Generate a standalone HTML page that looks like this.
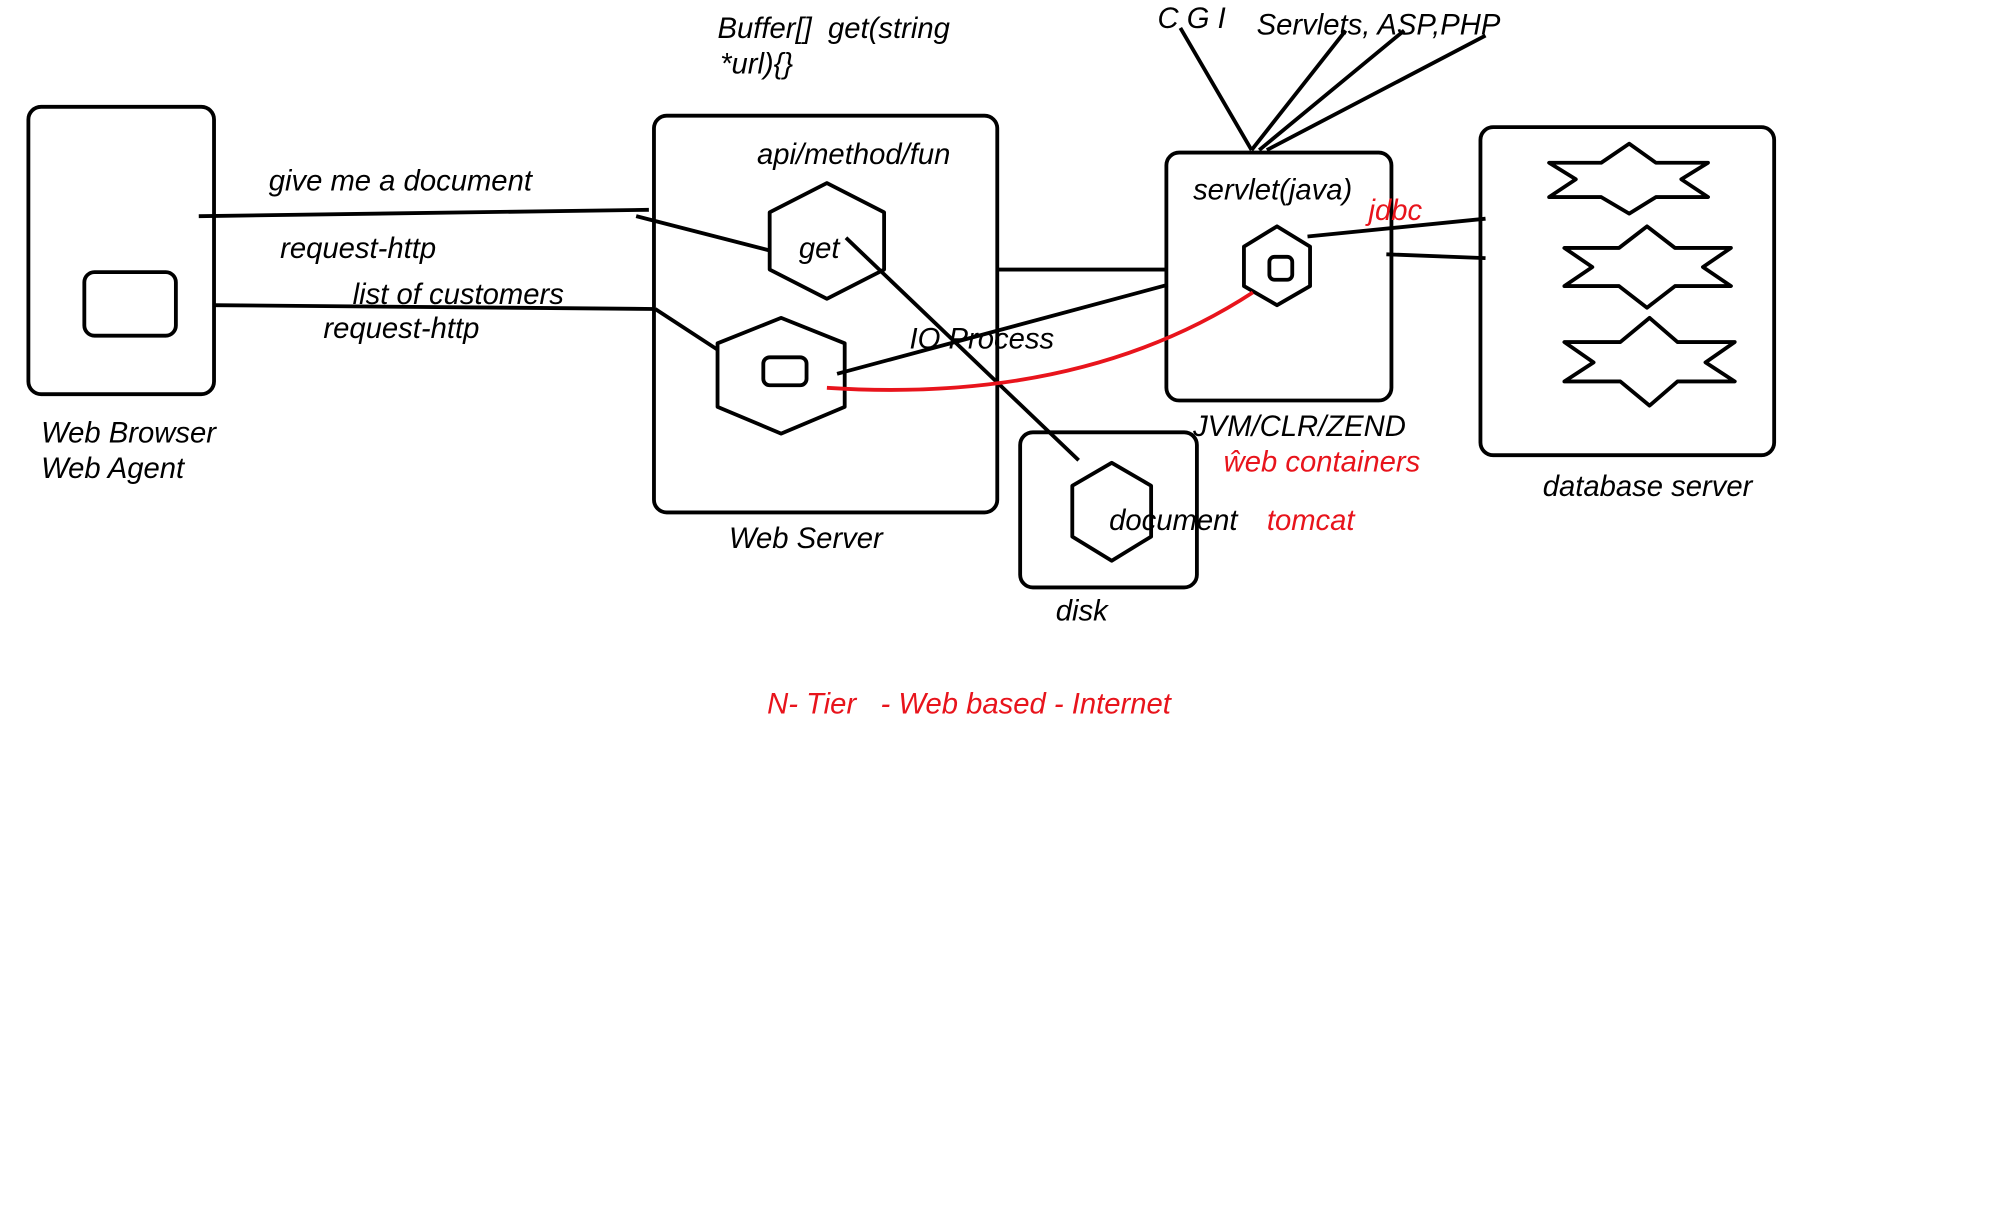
<!DOCTYPE html>
<html><head><meta charset="utf-8"><style>
html,body{margin:0;padding:0;background:#fff;width:1992px;height:1227px;overflow:hidden}
svg{display:block}
text{font-family:"Liberation Sans",sans-serif;font-style:italic;font-size:23px;fill:#000;white-space:pre}
.r{fill:#e8141c}
</style></head><body>
<svg width="1992" height="1227" viewBox="0 0 1566 965" xmlns="http://www.w3.org/2000/svg">
<g fill="none" stroke="#000" stroke-width="3" stroke-linejoin="round">
<rect x="22" y="84" width="146" height="226" rx="10"/>
<rect x="66" y="214" width="72" height="50" rx="8"/>
<line x1="156" y1="170" x2="510" y2="165"/>
<line x1="168" y1="240" x2="515" y2="243"/>
<rect x="514" y="91" width="270" height="312" rx="10"/>
<polygon points="605,167 650,144 695,167 695,212 650,235 605,212"/>
<line x1="500" y1="170" x2="605" y2="197"/>
<polygon points="564,270 614,250 664,270 664,320 614,341 564,320"/>
<rect x="600" y="281" width="34" height="22" rx="5"/>
<line x1="515" y1="243" x2="564" y2="275"/>
<line x1="665" y1="187" x2="848" y2="362"/>
<line x1="658" y1="294" x2="918" y2="224"/>
<line x1="784" y1="212" x2="918" y2="212"/>
<rect x="917" y="120" width="177" height="195" rx="10"/>
<polygon points="978,194 1004,178 1030,194 1030,225 1004,240 978,225"/>
<rect x="998" y="202" width="18" height="18" rx="4"/>
<line x1="1028" y1="186" x2="1168" y2="172"/>
<line x1="1090" y1="200" x2="1168" y2="203"/>
<line x1="984" y1="118" x2="928" y2="22"/>
<line x1="984" y1="118" x2="1058" y2="24"/>
<line x1="990" y1="118" x2="1104" y2="24"/>
<line x1="996" y1="118" x2="1168" y2="28"/>
<rect x="802" y="340" width="139" height="122" rx="10"/>
<polygon points="843,382 874,364 905,382 905,422 874,441 843,422"/>
<rect x="1164" y="100" width="231" height="258" rx="10"/>
<polygon points="1218,128 1259,128 1281,113 1302,128 1343,128 1322,141 1343,155 1302,155 1281,168 1259,155 1218,155 1239,141"/>
<polygon points="1230,195 1273,195 1295,178 1317,195 1361,195 1339,210 1361,225 1317,225 1295,242 1273,225 1230,225 1252,210"/>
<polygon points="1230,269 1274,269 1297,250 1319,269 1364,269 1341,285 1364,300 1319,300 1297,319 1274,300 1230,300 1253,285"/>
</g>
<path d="M650,305 Q850,318 985,230" fill="none" stroke="#e8141c" stroke-width="3"/>
<text x="32" y="348">Web Browser</text>
<text x="32" y="376">Web Agent</text>
<text x="211" y="150">give me a document</text>
<text x="220" y="203">request-http</text>
<text x="277" y="239">list of customers</text>
<text x="254" y="266">request-http</text>
<text x="595" y="129">api/method/fun</text>
<text x="628" y="203">get</text>
<text x="715" y="274">IO Process</text>
<text x="573" y="431">Web Server</text>
<text x="564" y="30">Buffer[]  get(string</text>
<text x="566" y="58">*url){}</text>
<text x="910" y="22">C G I</text>
<text x="988" y="27">Servlets, ASP,PHP</text>
<text x="938" y="157">servlet(java)</text>
<text x="1076" y="173" class="r">jdbc</text>
<text x="938" y="343">JVM/CLR/ZEND</text>
<text x="962" y="371" class="r">ŵeb containers</text>
<text x="996" y="417" class="r">tomcat</text>
<text x="872" y="417">document</text>
<text x="830" y="488">disk</text>
<text x="1213" y="390">database server</text>
<text x="603" y="561" class="r">N- Tier   - Web based - Internet</text>
</svg>
</body></html>
